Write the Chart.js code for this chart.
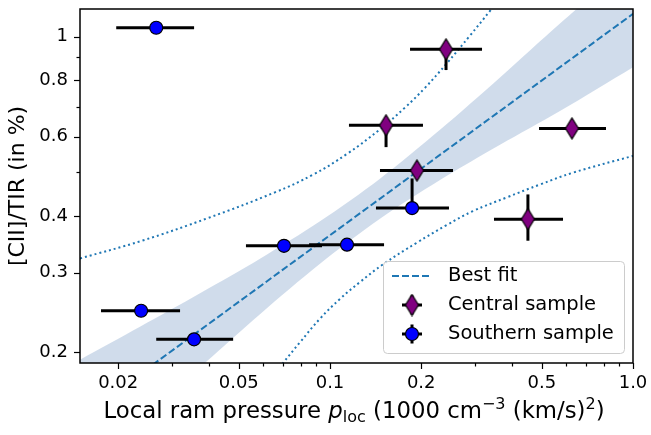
<!DOCTYPE html>
<html>
<head>
<meta charset="utf-8">
<script src="https://cdn.jsdelivr.net/npm/chart.js@4.4.0/dist/chart.umd.min.js"></script>
<style>
  html, body { margin: 0; padding: 0; background: #fff; }
  #wrap { width: 651px; height: 435px; position: relative; }
</style>
</head>
<body>
<div id="wrap"><canvas id="ramChart"></canvas></div>
<script>
// ticks
const xTicks = [0.02, 0.05, 0.1, 0.2, 0.5, 1.0];
const xTickLabels = ['0.02', '0.05', '0.1', '0.2', '0.5', '1.0'];
const xMinorTicks = [0.03, 0.04, 0.06, 0.07, 0.08, 0.09, 0.3, 0.4, 0.6, 0.7, 0.8, 0.9];
const yTicks = [0.2, 0.3, 0.4, 0.6, 0.8, 1];
const yTickLabels = ['0.2', '0.3', '0.4', '0.6', '0.8', '1'];
const yMinorTicks = [0.5, 0.7, 0.9];

// southern sample (blue circles)
const southX = [0.0267, 0.0238, 0.0356, 0.0705, 0.1138, 0.1866];
const southY = [1.046, 0.247, 0.2135, 0.344, 0.346, 0.417];
const southXLow = [0.0197, 0.01755, 0.0267, 0.0528, 0.0853, 0.1418];
const southXHigh = [0.0356, 0.0320, 0.0479, 0.0941, 0.1508, 0.247];
const southYLow = [1.046, 0.247, 0.2135, 0.344, 0.346, 0.41];
const southYHigh = [1.046, 0.247, 0.2135, 0.344, 0.346, 0.485];

// central sample (purple diamonds)
const centralX = [0.2415, 0.1531, 0.1937, 0.629, 0.450];
const centralY = [0.937, 0.636, 0.505, 0.626, 0.394];
const centralXLow = [0.1837, 0.1155, 0.1462, 0.4896, 0.3477];
const centralXHigh = [0.3175, 0.2027, 0.2547, 0.8145, 0.5875];
const centralYLow = [0.843, 0.569, 0.505, 0.626, 0.353];
const centralYHigh = [0.95, 0.65, 0.505, 0.626, 0.447];

// best fit line
const fitX = [0.01496, 1.0];
const fitY = [0.143, 1.123];

// shaded band around the fit
const bandX = [0.01496, 0.0236, 0.03724, 0.05875, 0.09268, 0.1462, 0.2307, 0.364, 0.5741, 1.0];
const bandLow = [0.1062, 0.1405, 0.1851, 0.2427, 0.3138, 0.3947, 0.4810, 0.5756, 0.6840, 0.8556];
const bandHigh = [0.1923, 0.2275, 0.2699, 0.3220, 0.3897, 0.4844, 0.6216, 0.8120, 1.069, 1.473];

// dotted curves
const upperX = [0.01496, 0.02396, 0.03958, 0.06583, 0.0879, 0.1138, 0.1462, 0.1768, 0.2058, 0.2432, 0.2897, 0.3374, 0.378];
const upperY = [0.3225, 0.353, 0.3963, 0.4518, 0.4945, 0.5497, 0.6231, 0.6963, 0.7699, 0.873, 1.005, 1.14, 1.254];
const lowerX = [0.0634, 0.070, 0.07962, 0.09268, 0.1079, 0.1256, 0.1496, 0.1937, 0.2432, 0.2964, 0.3838, 0.4932, 0.6339, 1.0];
const lowerY = [0.1737, 0.1892, 0.2103, 0.2372, 0.2624, 0.2859, 0.3129, 0.3496, 0.3826, 0.4106, 0.4405, 0.4702, 0.4995, 0.5441];

const toPts = (xs, ys) => xs.map((x, i) => ({ x: x, y: ys[i] }));

const FONT = 'DejaVu Sans';
const LINE_BLUE = '#1f77b4';

// thin diamond marker
const makeDiamond = () => {
  const c = document.createElement('canvas');
  c.width = 15;
  c.height = 23;
  const g = c.getContext('2d');
  g.beginPath();
  g.moveTo(7.5, 1);
  g.lineTo(14, 11.5);
  g.lineTo(7.5, 22);
  g.lineTo(1, 11.5);
  g.closePath();
  g.fillStyle = '#800080';
  g.fill();
  g.lineWidth = 1.2;
  g.strokeStyle = '#000';
  g.stroke();
  return c;
};
const diamond = makeDiamond();

// error bars drawn right before each marker dataset
const errorBars = {
  id: 'errorBars',
  beforeDatasetDraw(chart, args) {
    const ds = chart.data.datasets[args.index];
    if (!ds.xLow) return;
    const { ctx, chartArea, scales: { x, y } } = chart;
    ctx.save();
    ctx.beginPath();
    ctx.rect(chartArea.left, chartArea.top, chartArea.right - chartArea.left, chartArea.bottom - chartArea.top);
    ctx.clip();
    ctx.strokeStyle = '#000';
    ctx.lineWidth = 3;
    ds.data.forEach((p, i) => {
      const py = y.getPixelForValue(p.y);
      const px = x.getPixelForValue(p.x);
      ctx.beginPath();
      ctx.moveTo(x.getPixelForValue(ds.xLow[i]), py);
      ctx.lineTo(x.getPixelForValue(ds.xHigh[i]), py);
      ctx.stroke();
      if (ds.yLow[i] !== ds.yHigh[i]) {
        ctx.beginPath();
        ctx.moveTo(px, y.getPixelForValue(ds.yLow[i]));
        ctx.lineTo(px, y.getPixelForValue(ds.yHigh[i]));
        ctx.stroke();
      }
    });
    ctx.restore();
  }
};

// frame, tick marks, x title, legend
const decorations = {
  id: 'decorations',
  afterDatasetsDraw(chart) {
    const { ctx, chartArea: a, scales: { x, y } } = chart;
    ctx.save();
    ctx.strokeStyle = '#000';
    ctx.lineWidth = 1.5;
    ctx.strokeRect(a.left, a.top, a.right - a.left, a.bottom - a.top);

    ctx.lineWidth = 1.2;
    const tick = (vals, len, horiz) => {
      vals.forEach(v => {
        ctx.beginPath();
        if (horiz) {
          const px = Math.round(x.getPixelForValue(v)) + 0.5;
          ctx.moveTo(px, a.bottom);
          ctx.lineTo(px, a.bottom + len);
        } else {
          const py = Math.round(y.getPixelForValue(v)) + 0.5;
          ctx.moveTo(a.left, py);
          ctx.lineTo(a.left - len, py);
        }
        ctx.stroke();
      });
    };
    tick(xTicks, 6, true);
    tick(xMinorTicks, 3.5, true);
    tick(yTicks, 6, false);
    tick(yMinorTicks, 3.5, false);
    ctx.restore();
  },
  afterDraw(chart) {
    const { ctx } = chart;
    ctx.save();

    // x axis title with sub/superscripts
    const big = 22.8, small = 16;
    const parts = [
      { t: 'Local ram pressure ', f: `${big}px ${FONT}`, dy: 0 },
      { t: 'p', f: `italic ${big}px ${FONT}`, dy: 0 },
      { t: 'loc', f: `${small}px ${FONT}`, dy: 4 },
      { t: ' (1000 cm', f: `${big}px ${FONT}`, dy: 0 },
      { t: '\u22123', f: `${small}px ${FONT}`, dy: -9 },
      { t: ' (km/s)', f: `${big}px ${FONT}`, dy: 0 },
      { t: '2', f: `${small}px ${FONT}`, dy: -9 },
      { t: ')', f: `${big}px ${FONT}`, dy: 0 }
    ];
    let total = 0;
    parts.forEach(p => { ctx.font = p.f; p.w = ctx.measureText(p.t).width; total += p.w; });
    let cx = 354 - total / 2;
    ctx.fillStyle = '#000';
    ctx.textBaseline = 'alphabetic';
    ctx.textAlign = 'left';
    parts.forEach(p => {
      ctx.font = p.f;
      ctx.fillText(p.t, cx, 418 + p.dy);
      cx += p.w;
    });

    // legend
    const lx = 383, ly = 261, lw = 241, lh = 92;
    ctx.beginPath();
    ctx.roundRect(lx + 0.5, ly + 0.5, lw, lh, 4);
    ctx.fillStyle = 'rgba(255,255,255,0.8)';
    ctx.fill();
    ctx.strokeStyle = '#cccccc';
    ctx.lineWidth = 1;
    ctx.stroke();

    const hx = 412;
    const rows = [276, 305, 334];
    ctx.strokeStyle = LINE_BLUE;
    ctx.lineWidth = 2;
    ctx.setLineDash([7, 3]);
    ctx.beginPath();
    ctx.moveTo(392, rows[0]);
    ctx.lineTo(432, rows[0]);
    ctx.stroke();
    ctx.setLineDash([]);

    const cross = (cy) => {
      ctx.strokeStyle = '#000';
      ctx.lineWidth = 3;
      ctx.beginPath();
      ctx.moveTo(hx - 10, cy);
      ctx.lineTo(hx + 10, cy);
      ctx.moveTo(hx, cy - 9.5);
      ctx.lineTo(hx, cy + 9.5);
      ctx.stroke();
    };
    cross(rows[1]);
    ctx.drawImage(diamond, hx - diamond.width / 2, rows[1] - diamond.height / 2);
    cross(rows[2]);
    ctx.beginPath();
    ctx.arc(hx, rows[2], 6.5, 0, Math.PI * 2);
    ctx.fillStyle = '#0000ff';
    ctx.fill();
    ctx.strokeStyle = '#000';
    ctx.lineWidth = 1.2;
    ctx.stroke();

    ctx.fillStyle = '#000';
    ctx.font = `19.5px ${FONT}`;
    ctx.textBaseline = 'middle';
    ctx.fillText('Best fit', 448, rows[0]);
    ctx.fillText('Central sample', 448, rows[1]);
    ctx.fillText('Southern sample', 448, rows[2]);
    ctx.restore();
  }
};

Chart.defaults.font.family = FONT;
Chart.defaults.color = '#000';

const ctx = document.getElementById('ramChart').getContext('2d');

new Chart(ctx, {
  type: 'scatter',
  data: {
    datasets: [
      {
        label: 'band high',
        data: toPts(bandX, bandHigh),
        showLine: true,
        pointRadius: 0,
        borderWidth: 0,
        borderColor: 'rgba(0,0,0,0)',
        backgroundColor: 'rgba(176,196,222,0.6)',
        fill: '+1',
        tension: 0.3,
        order: 10
      },
      {
        label: 'band low',
        data: toPts(bandX, bandLow),
        showLine: true,
        pointRadius: 0,
        borderWidth: 0,
        borderColor: 'rgba(0,0,0,0)',
        fill: false,
        tension: 0.3,
        order: 9
      },
      {
        label: 'Best fit',
        data: toPts(fitX, fitY),
        showLine: true,
        pointRadius: 0,
        borderColor: LINE_BLUE,
        borderWidth: 2,
        borderDash: [7, 3],
        order: 8
      },
      {
        label: 'upper',
        data: toPts(upperX, upperY),
        showLine: true,
        pointRadius: 0,
        borderColor: LINE_BLUE,
        borderWidth: 2,
        borderDash: [2, 3],
        tension: 0.4,
        order: 7
      },
      {
        label: 'lower',
        data: toPts(lowerX, lowerY),
        showLine: true,
        pointRadius: 0,
        borderColor: LINE_BLUE,
        borderWidth: 2,
        borderDash: [2, 3],
        tension: 0.4,
        order: 6
      },
      {
        label: 'Central sample',
        data: toPts(centralX, centralY),
        xLow: centralXLow, xHigh: centralXHigh,
        yLow: centralYLow, yHigh: centralYHigh,
        pointStyle: diamond,
        pointRadius: 8,
        order: 2
      },
      {
        label: 'Southern sample',
        data: toPts(southX, southY),
        xLow: southXLow, xHigh: southXHigh,
        yLow: southYLow, yHigh: southYHigh,
        pointStyle: 'circle',
        pointRadius: 6.5,
        pointBackgroundColor: '#0000ff',
        pointBorderColor: '#000',
        pointBorderWidth: 1.2,
        order: 1
      }
    ]
  },
  options: {
    responsive: true,
    maintainAspectRatio: false,
    animation: false,
    events: [],
    layout: { padding: { left: 0, right: 18, top: 3, bottom: 0 } },
    plugins: {
      legend: { display: false },
      tooltip: { enabled: false }
    },
    scales: {
      x: {
        type: 'logarithmic',
        min: 0.01496,
        max: 1.0,
        afterBuildTicks: (scale) => { scale.ticks = xTicks.map(v => ({ value: v })); },
        afterFit: (scale) => {
          scale.height = 72;
          scale.paddingLeft = 0;
          scale.paddingRight = 0;
        },
        grid: { display: false, drawTicks: false },
        border: { display: false },
        ticks: {
          autoSkip: false,
          maxRotation: 0,
          padding: 10,
          font: { size: 18 },
          callback: (v, i) => xTickLabels[i]
        }
      },
      y: {
        type: 'logarithmic',
        min: 0.1892,
        max: 1.151,
        afterBuildTicks: (scale) => { scale.ticks = yTicks.map(v => ({ value: v })); },
        afterFit: (scale) => {
          scale.width = 80;
          scale.paddingTop = 0;
          scale.paddingBottom = 0;
        },
        grid: { display: false, drawTicks: false },
        border: { display: false },
        ticks: {
          autoSkip: false,
          padding: 12,
          font: { size: 18 },
          callback: (v, i) => yTickLabels[i]
        },
        title: {
          display: true,
          text: '[CII]/TIR (in %)',
          font: { size: 22 },
          padding: { top: 5, bottom: 0 }
        }
      }
    }
  },
  plugins: [errorBars, decorations]
});
</script>
</body>
</html>
